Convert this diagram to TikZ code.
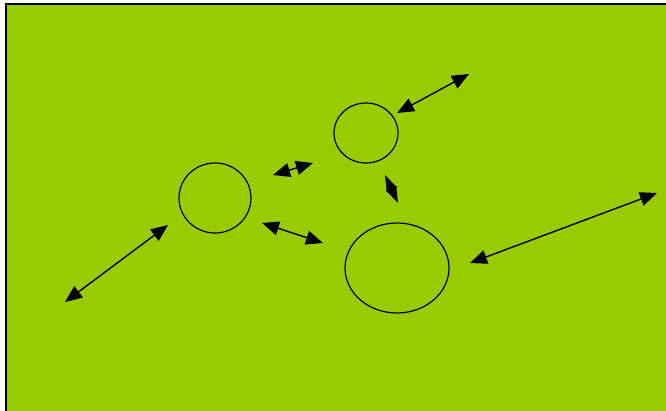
\documentclass[tikz,border=0pt]{standalone}
\usetikzlibrary{arrows.meta,shapes.geometric}
\definecolor{bg}{HTML}{99CC00}
\tikzset{
  blob/.style={draw=black,line width=1.2pt,ellipse,inner sep=0pt},
  dbl/.style={line width=1.4pt,{Triangle[length=17pt,width=14pt]}-{Triangle[length=17pt,width=14pt]}}
}
\begin{document}
\begin{tikzpicture}[x=1pt,y=-1pt]
\useasboundingbox (0,0) rectangle (666,411);
\fill[bg] (6,4) rectangle (670,415);
\draw[line width=2pt] (6,415) -- (6,4) -- (670,4);
\node[blob,minimum width=72pt,minimum height=70pt] (c1) at (215,198) {};
\node[blob,minimum width=64pt,minimum height=60pt] (c2) at (366,133) {};
\node[blob,minimum width=104pt,minimum height=90pt] (c3) at (397,268) {};
\coordinate (a1s) at (65,302); \coordinate (a1e) at (168,225);
\coordinate (a2s) at (273,175); \coordinate (a2e) at (313,163);
\coordinate (a3s) at (262,223); \coordinate (a3e) at (323,243);
\coordinate (a4s) at (385,175); \coordinate (a4e) at (398,203);
\coordinate (a5s) at (397,113); \coordinate (a5e) at (469,74);
\coordinate (a6s) at (470,263); \coordinate (a6e) at (657,193);
\draw[dbl] (a1s) -- (a1e);
\draw[dbl] (a2s) -- (a2e);
\draw[dbl] (a3s) -- (a3e);
\draw[line width=1.4pt,{Triangle[length=16.5pt,width=11pt]}-{Triangle[length=16.5pt,width=11pt]}] (a4s) -- (a4e);
\draw[dbl] (a5s) -- (a5e);
\draw[dbl] (a6s) -- (a6e);
\end{tikzpicture}
\end{document}
